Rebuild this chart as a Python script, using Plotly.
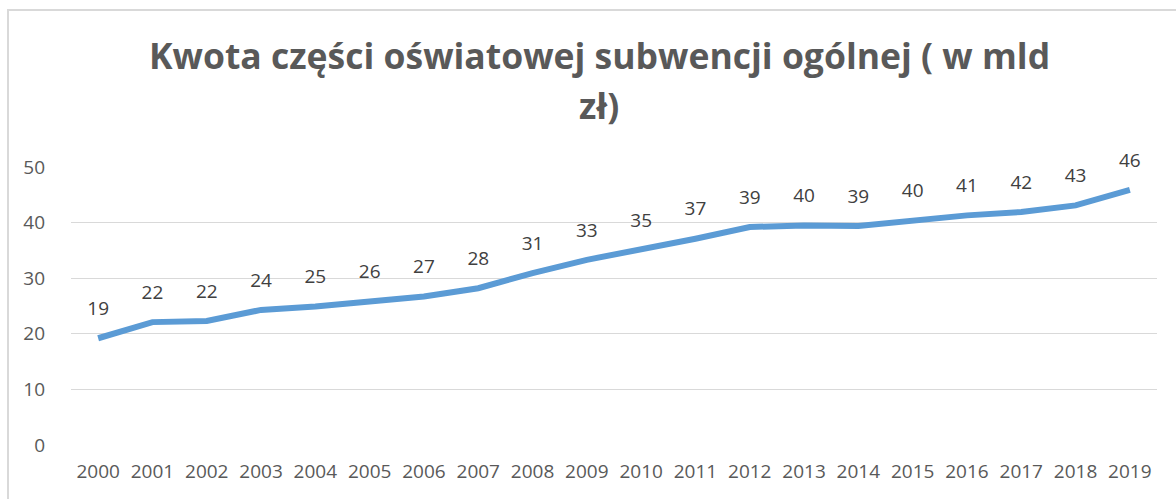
import plotly.graph_objects as go

years = [str(y) for y in range(2000, 2020)]
values = [19.2, 22.1, 22.3, 24.3, 24.9, 25.8, 26.7, 28.2, 30.9, 33.3,
          35.1, 37.1, 39.2, 39.5, 39.4, 40.4, 41.3, 41.9, 43.1, 45.9]
labels = [f"{v:.0f}" for v in values]

title_line1 = "Kwota części oświatowej subwencji ogólnej ( w mld"
title_line2 = "zł)"

W, H = 1176, 499
ml, mr, mt, mb = 71, 19, 167, 54

fig = go.Figure()
fig.add_trace(go.Scatter(
    x=years, y=values, mode="lines+markers+text",
    text=labels, textposition="top center",
    textfont=dict(family="Open Sans", size=19, color="#404040"),
    line=dict(color="#5B9BD5", width=6, shape="linear"),
    marker=dict(size=28, color="rgba(0,0,0,0)"),
    cliponaxis=False, hoverinfo="skip", showlegend=False,
))

fig.update_layout(
    width=W, height=H,
    margin=dict(l=ml, r=mr, t=mt, b=mb),
    paper_bgcolor="white", plot_bgcolor="white",
    font=dict(family="Open Sans", color="#595959"),
    xaxis=dict(showgrid=False, showline=False, zeroline=False,
               tickfont=dict(size=19, color="#595959"),
               ticklabelstandoff=13, range=[-0.5, 19.5]),
    yaxis=dict(range=[0, 50], tickvals=[0, 10, 20, 30, 40, 50],
               showgrid=True, gridcolor="#D9D9D9", gridwidth=1.3,
               zeroline=False, showline=False,
               tickfont=dict(size=19, color="#595959"),
               ticklabelstandoff=25),
    annotations=[
        dict(text="<b>" + title_line1 + "</b>", xref="paper", yref="paper",
             x=(599 - ml) / (W - ml - mr), y=(H - mb - 55) / (H - mt - mb),
             showarrow=False, xanchor="center", yanchor="middle",
             font=dict(family="Open Sans", size=35.5, color="#595959")),
        dict(text="<b>" + title_line2 + "</b>", xref="paper", yref="paper",
             x=(599 - ml) / (W - ml - mr), y=(H - mb - 105) / (H - mt - mb),
             showarrow=False, xanchor="center", yanchor="middle",
             font=dict(family="Open Sans", size=35.5, color="#595959")),
    ],
    shapes=[dict(type="rect", xref="paper", yref="paper",
                 x0=(8 - ml) / (W - ml - mr), x1=2.0,
                 y0=-1.0, y1=(H - mb - 10) / (H - mt - mb),
                 line=dict(color="#D9D9D9", width=2), layer="below")],
)

fig.write_html("out.html",
               config={"displayModeBar": False},
               post_script="document.body.style.margin='0';document.body.style.overflow='hidden';")
